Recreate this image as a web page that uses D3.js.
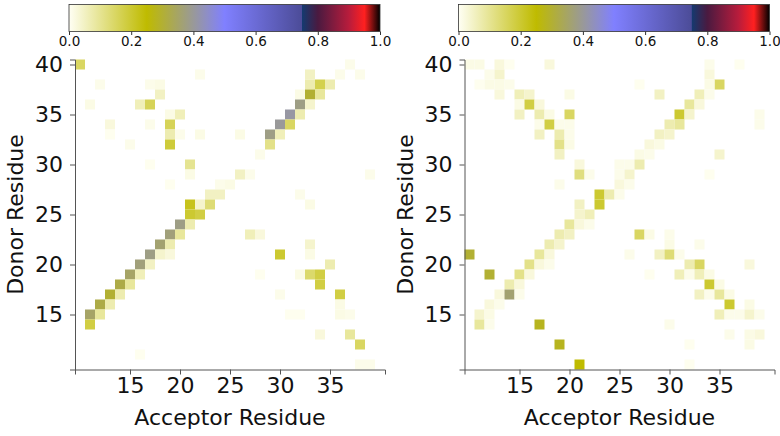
<!DOCTYPE html>
<html><head><meta charset="utf-8">
<script src="https://cdn.jsdelivr.net/npm/d3@7"></script>
<style>body{margin:0;background:#fff}svg{display:block}text{font-family:"DejaVu Sans",sans-serif;fill:#111}</style>
</head><body>
<svg id="c" width="780" height="436"></svg>
<script>
// [acceptor, donor, value]
const leftCells = [
[10,40,0.15],[22,39,0.01],[12,38,0.01],[17,38,0.01],[18,38,0.015],[18,37,0.05],
[11,36,0.015],[16,36,0.06],[17,36,0.16],[19,35,0.015],[20,35,0.06],
[13,34,0.025],[17,34,0.01],[19,34,0.16],[13,33,0.005],[19,33,0.07],[20,33,0.01],[22,33,0.015],
[15,32,0.01],[19,32,0.19],[17,30,0.005],[21,30,0.1],[21,29,0.015],[19,28,0.005],[24,28,0.01],
[23,27,0.05],[24,27,0.05],[21,26,0.22],[22,26,0.04],[23,26,0.13],
[33,39,0.05],[36,39,0.01],[37,40,0.01],[38,39,0.01],[33,38,0.07],[34,38,0.17],[35,38,0.07],
[32,37,0.015],[33,37,0.3],[34,37,0.09],[32,36,0.38],[33,36,0.04],[31,35,0.41],[32,35,0.07],
[30,34,0.4],[31,34,0.15],[29,33,0.38],[30,33,0.06],[26,33,0.015],[29,32,0.11],[28,31,0.01],
[26,29,0.05],[27,29,0.01],[39,29,0.01],[25,28,0.015],
[21,25,0.2],[22,25,0.18],[20,24,0.38],[21,24,0.07],[19,23,0.37],[20,23,0.09],
[18,22,0.36],[19,22,0.07],[17,21,0.38],[18,21,0.04],[19,21,0.025],[16,20,0.37],[17,20,0.05],
[15,19,0.35],[16,19,0.06],[14,18,0.32],[15,18,0.09],[13,17,0.3],[14,17,0.07],
[12,16,0.32],[13,16,0.07],[11,15,0.35],[12,15,0.09],[11,14,0.18],[16,11,0.005],
[32,27,0.01],[33,26,0.015],[27,23,0.06],[28,23,0.025],[33,22,0.04],[33,21,0.015],[30,21,0.2],
[35,20,0.07],[32,19,0.015],[33,19,0.14],[34,19,0.18],[28,19,0.005],[34,18,0.18],
[36,17,0.18],[30,17,0.01],[36,16,0.015],[36,15,0.015],[37,15,0.01],[31,15,0.005],[32,15,0.005],
[34,13,0.025],[37,13,0.09],[38,12,0.15],[38,10,0.01],[39,10,0.01]
];
const rightCells = [
[10,40,0.015],[11,40,0.015],[13,40,0.025],[14,40,0.005],[18,40,0.025],[12,39,0.01],[13,39,0.04],
[11,38,0.005],[12,38,0.015],[13,38,0.015],[14,38,0.01],[13,37,0.025],[15,37,0.06],[16,37,0.04],[20,37,0.015],
[15,36,0.015],[16,36,0.18],[17,36,0.025],[15,35,0.05],[17,35,0.07],[18,35,0.015],[20,35,0.15],
[17,34,0.01],[18,34,0.18],[19,34,0.01],[20,34,0.01],[17,33,0.05],[19,33,0.07],[20,33,0.01],
[19,32,0.11],[20,32,0.015],[19,31,0.05],[21,30,0.025],[25,30,0.01],[21,29,0.12],[22,29,0.01],
[19,28,0.01],[23,27,0.2],[24,27,0.07],[21,26,0.05],[23,26,0.2],
[34,40,0.01],[37,40,0.005],[34,39,0.025],[35,38,0.15],[34,38,0.015],[27,38,0.005],
[29,37,0.05],[33,37,0.06],[34,37,0.01],[32,36,0.09],[33,36,0.025],[31,35,0.2],[32,35,0.04],[39,35,0.01],
[30,34,0.07],[31,34,0.09],[39,34,0.01],[29,33,0.05],[30,33,0.04],[28,32,0.025],[29,32,0.015],
[27,31,0.015],[28,31,0.01],[35,31,0.04],[26,30,0.01],[27,30,0.07],[25,29,0.01],[26,29,0.04],[34,29,0.005],
[25,28,0.025],[26,28,0.01],[25,27,0.01],
[21,25,0.04],[22,25,0.06],[20,24,0.09],[21,24,0.025],[22,24,0.01],[19,23,0.07],[20,23,0.05],
[18,22,0.07],[19,22,0.04],[17,21,0.09],[18,21,0.025],[10,21,0.3],[16,20,0.11],[17,20,0.025],[18,20,0.01],
[12,19,0.3],[15,19,0.11],[16,19,0.025],[14,18,0.07],[15,18,0.025],[13,17,0.025],[14,17,0.36],[15,17,0.01],
[12,16,0.025],[13,16,0.01],[11,15,0.04],[12,15,0.015],[11,14,0.09],[12,14,0.01],[17,14,0.28],
[19,12,0.28],[21,10,0.25],
[27,23,0.15],[28,23,0.015],[30,23,0.01],[30,22,0.015],[33,22,0.01],
[26,21,0.01],[29,21,0.05],[30,21,0.13],[31,21,0.01],[32,20,0.07],[33,20,0.15],[38,20,0.025],
[28,19,0.005],[31,19,0.06],[32,19,0.01],[33,19,0.06],[34,19,0.015],[34,18,0.2],[35,18,0.015],
[33,17,0.05],[34,17,0.01],[35,17,0.09],[36,17,0.015],[36,16,0.2],[38,16,0.015],
[35,15,0.06],[36,15,0.01],[37,15,0.01],[38,15,0.04],[39,15,0.01],[30,14,0.01],
[36,13,0.01],[38,13,0.015],[39,13,0.025],[38,12,0.015],[32,12,0.005],[32,10,0.005]
];
const xTicks = [15,20,25,30,35];
const yTicks = [15,20,25,30,35,40];
const cbTicks = [0.0,0.2,0.4,0.6,0.8,1.0];
const cmapStops = [0,0.25,0.4,0.5,0.749,0.75,0.8,0.9,0.95,1];
const cmapColors = ["#fffff4","#bfbb00","#999999","#8080ff","#4c4c98","#143a70","#4a1a40","#b81c3c","#ff2020","#000000"];
const xLabel = "Acceptor Residue", yLabel = "Donor Residue";

const svg = d3.select("#c");
const color = d3.scaleLinear().domain(cmapStops).range(cmapColors).clamp(true);

const defs = svg.append("defs");
const grad = defs.append("linearGradient").attr("id","cm").attr("x1","0%").attr("x2","100%").attr("y1","0%").attr("y2","0%");
cmapStops.forEach((s,i)=>grad.append("stop").attr("offset",(s*100)+"%").attr("stop-color",cmapColors[i]));

function panel(cells, ox){
  const x = d3.scaleLinear().domain([9.5,40.5]).range([75+ox,385+ox]);
  const y = d3.scaleLinear().domain([9.5,40.5]).range([369.5,59.5]);
  const g = svg.append("g");
  g.selectAll("rect.cell").data(cells).join("rect").attr("class","cell")
    .attr("x",d=>x(d[0]-0.5)).attr("y",d=>y(d[1]+0.5))
    .attr("width",d=>x(d[0]+0.5)-x(d[0]-0.5)).attr("height",d=>y(d[1]-0.5)-y(d[1]+0.5))
    .attr("fill",d=>color(d[2]));
  const xa = g.append("g").attr("transform",`translate(0,369.5)`)
    .call(d3.axisBottom(x).tickValues(xTicks).tickSizeOuter(0).tickSize(5).tickPadding(3).tickFormat(d3.format("d")));
  const ya = g.append("g").attr("transform",`translate(${75+ox},0)`)
    .call(d3.axisLeft(y).tickValues(yTicks).tickSizeOuter(0).tickSize(5).tickPadding(7).tickFormat(d3.format("d")));
  [xa,ya].forEach(a=>{
    a.selectAll("text").attr("font-size",22).attr("font-family","DejaVu Sans").attr("fill","#111");
    a.selectAll("line,path").attr("stroke","#555");
  });
  g.append("text").attr("x",230+ox).attr("y",425).attr("text-anchor","middle").attr("font-size",22).text(xLabel);
  g.append("text").attr("transform",`translate(${23+ox},214.5) rotate(-90)`).attr("text-anchor","middle").attr("font-size",22).text(yLabel);

  // colorbar
  const cx = d3.scaleLinear().domain([0,1]).range([69+ox,380+ox]);
  g.append("rect").attr("x",cx(0)).attr("y",4.5).attr("width",cx(1)-cx(0)).attr("height",27)
    .attr("fill","url(#cm)").attr("stroke","#333").attr("stroke-width",0.8);
  const ca = g.append("g").attr("transform","translate(0,31.5)")
    .call(d3.axisBottom(cx).tickValues(cbTicks).tickSize(3.5).tickPadding(1.5).tickFormat(d3.format(".1f")));
  ca.select(".domain").remove();
  ca.selectAll("text").attr("font-size",13.5).attr("font-family","DejaVu Sans").attr("fill","#111");
  ca.selectAll("line").attr("stroke","#333");
}
panel(leftCells,0);
panel(rightCells,389.5);
</script>
</body></html>
